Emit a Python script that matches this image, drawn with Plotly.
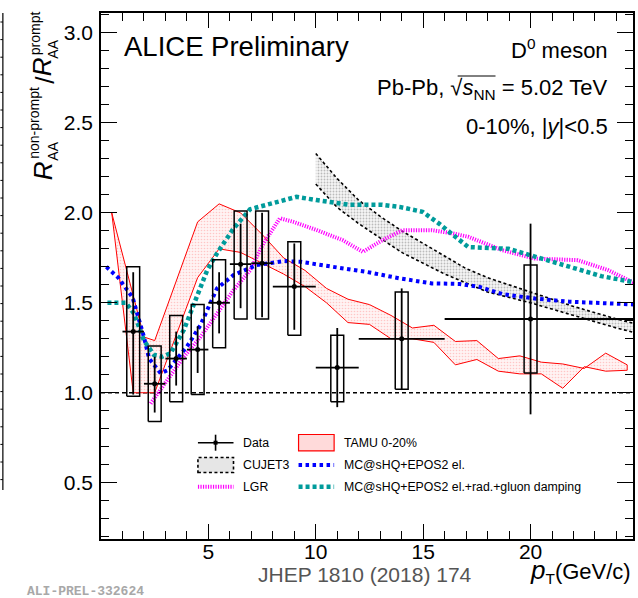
import plotly.graph_objects as go

# ---------------- data ----------------
# measured non-prompt / prompt D0 R_AA ratio
pt = [1.5, 2.5, 3.5, 4.5, 5.5, 6.5, 7.5, 9.0, 11.0, 14.0, 20.0]
bin_lo = [1, 2, 3, 4, 5, 6, 7, 8, 10, 12, 16]
bin_hi = [2, 3, 4, 5, 6, 7, 8, 10, 12, 16, 36]
ratio = [1.34, 1.05, 1.19, 1.24, 1.50, 1.715, 1.72, 1.59, 1.14, 1.30, 1.41]
stat_up = [0.33, 0.15, 0.15, 0.13, 0.17, 0.225, 0.28, 0.24, 0.22, 0.28, 0.53]
stat_dn = [0.35, 0.16, 0.15, 0.13, 0.17, 0.245, 0.30, 0.24, 0.22, 0.285, 0.53]
syst_up = [0.36, 0.21, 0.24, 0.25, 0.24, 0.295, 0.29, 0.25, 0.18, 0.26, 0.30]
syst_dn = [0.36, 0.21, 0.24, 0.25, 0.25, 0.305, 0.31, 0.27, 0.19, 0.28, 0.30]
syst_halfwidth = 0.3

# TAMU 0-20% band
tamu_up_x = [0.5, 2.0, 2.5, 4.5, 5.5, 6.5, 7.5, 8.5, 9.5, 10.5, 11.5, 12.5, 13.5,
             14.5, 15.5, 16.5, 17.5, 18.5, 19.5, 20.5, 21.5, 22.5, 23.5, 24.5]
tamu_up_y = [2.0, 1.31, 1.29, 1.95, 2.05, 2.00, 1.88, 1.75, 1.68, 1.58, 1.52, 1.49, 1.43,
             1.36, 1.375, 1.285, 1.29, 1.19, 1.205, 1.17, 1.16, 1.135, 1.22, 1.155]
tamu_lo_x = [0.5, 1.5, 2.5, 4.5, 5.5, 6.5, 7.5, 8.5, 9.5, 10.5, 11.5, 12.5, 13.5,
             14.5, 15.5, 16.5, 17.5, 18.5, 19.5, 20.5, 21.5, 22.5, 23.5, 24.5]
tamu_lo_y = [2.0, 1.0, 1.0, 1.64, 1.80, 1.78, 1.72, 1.66, 1.59, 1.50, 1.39, 1.38, 1.30,
             1.30, 1.28, 1.155, 1.185, 1.12, 1.105, 1.105, 1.025, 1.145, 1.12, 1.125]

# CUJET3 band
cujet_x = [10, 11, 12, 13, 14, 15, 16, 17, 18, 20, 22, 24, 25]
cujet_up = [2.33, 2.19, 2.07, 1.98, 1.90, 1.83, 1.76, 1.69, 1.64, 1.56, 1.48, 1.41, 1.38]
cujet_lo = [2.16, 2.03, 1.94, 1.86, 1.78, 1.72, 1.66, 1.61, 1.56, 1.50, 1.43, 1.36, 1.33]

# LGR
lgr_x = [2.31, 3.09, 3.86, 4.63, 5.4, 6.17, 6.94, 7.56, 8.33, 8.95, 10.03, 11.26, 12.19,
         13.1, 14.04, 15.4, 16.36, 17.1, 18.67, 20.2, 22.2, 23.6, 24.8]
lgr_y = [0.94, 1.07, 1.20, 1.31, 1.44, 1.57, 1.68, 1.83, 1.97, 1.95, 1.905, 1.848, 1.783,
         1.848, 1.904, 1.904, 1.886, 1.867, 1.793, 1.746, 1.737, 1.682, 1.612]

# MC@sHQ+EPOS2 el.
mcel_x = [0.25, 0.8, 1.47, 2.0, 2.24, 2.78, 3.1, 4.0, 4.63, 5.4, 6.17, 7.25, 8.5, 9.3,
          10.8, 12.35, 13.9, 15.4, 16.7, 17.6, 18.7, 20.2, 21.8, 23.3, 24.8]
mcel_y = [1.70, 1.64, 1.53, 1.31, 1.19, 1.108, 1.125, 1.256, 1.376, 1.58, 1.654, 1.71,
          1.732, 1.728, 1.70, 1.672, 1.636, 1.608, 1.605, 1.589, 1.548, 1.524, 1.506,
          1.497, 1.491]

# MC@sHQ+EPOS2 el.+rad.+gluon damping
mcrad_x = [0.3, 1.16, 1.54, 2.0, 2.47, 2.85, 3.24, 3.86, 4.4, 4.94, 5.4, 6.17, 6.94, 7.7,
           9.1, 10.03, 11.57, 13.1, 13.9, 14.97, 15.74, 16.5, 17.1, 18.98, 20.2, 21.76,
           23.3, 24.8]
mcrad_y = [1.50, 1.50, 1.44, 1.29, 1.21, 1.20, 1.22, 1.35, 1.515, 1.68, 1.775, 1.913,
           2.02, 2.043, 2.089, 2.071, 2.045, 2.045, 2.033, 2.006, 1.94, 1.867, 1.81,
           1.80, 1.756, 1.70, 1.648, 1.615]

x_tick_vals = [5, 10, 15, 20]
x_tick_text = ["5", "10", "15", "20"]
y_tick_vals = [0.5, 1.0, 1.5, 2.0, 2.5, 3.0]
y_tick_text = ["0.5", "1.0", "1.5", "2.0", "2.5", "3.0"]
x_range = [0.0, 24.77]
y_range = [0.187, 3.111]

FONT = "Liberation Sans, Arial, Helvetica, sans-serif"
BLUE = "#0000ff"
TEAL = "#009b9b"
MAGENTA = "#ff00ff"
RED = "#ff0000"

# ---------------- figure geometry (pixels) ----------------
W, H = 638, 598
ML, MR, MT, MB = 101, 3, 13, 59
PW, PH = W - ML - MR, H - MT - MB


def px_x(px):
    return (px - ML) / PW


def px_y(py):
    return (H - MB - py) / PH


fig = go.Figure()

# TAMU band (upper edge forward, lower edge back)
fig.add_trace(go.Scatter(
    x=tamu_up_x + tamu_lo_x[::-1], y=tamu_up_y + tamu_lo_y[::-1],
    mode="lines", fill="toself",
    fillpattern=dict(shape=".", fgcolor="#ff9a9a", bgcolor="#fff3f3",
                     size=3, solidity=0.22),
    line=dict(color=RED, width=1), showlegend=False, hoverinfo="skip"))

# CUJET3 band
fig.add_trace(go.Scatter(
    x=cujet_x + cujet_x[::-1], y=cujet_up + cujet_lo[::-1],
    mode="lines", fill="toself",
    fillpattern=dict(shape=".", fgcolor="#808080", bgcolor="#f6f6f6",
                     size=3, solidity=0.3),
    line=dict(width=0, color="rgba(0,0,0,0)"), showlegend=False, hoverinfo="skip"))
for edge in (cujet_up, cujet_lo):
    fig.add_trace(go.Scatter(x=cujet_x, y=edge, mode="lines",
                             line=dict(color="black", width=1.6, dash="3px,2.5px"),
                             showlegend=False, hoverinfo="skip"))

# model curves
fig.add_trace(go.Scatter(x=lgr_x, y=lgr_y, mode="lines",
                         line=dict(color=MAGENTA, width=4, dash="1.2px,1.3px"),
                         showlegend=False, hoverinfo="skip"))
fig.add_trace(go.Scatter(x=mcel_x, y=mcel_y, mode="lines",
                         line=dict(color=BLUE, width=4, dash="3.5px,3.5px"),
                         showlegend=False, hoverinfo="skip"))
fig.add_trace(go.Scatter(x=mcrad_x, y=mcrad_y, mode="lines",
                         line=dict(color=TEAL, width=4.5, dash="4px,3px"),
                         showlegend=False, hoverinfo="skip"))

# systematic uncertainty boxes
bx, by = [], []
for x, y, su, sd in zip(pt, ratio, syst_up, syst_dn):
    x0, x1 = x - syst_halfwidth, x + syst_halfwidth
    bx += [x0, x1, x1, x0, x0, None]
    by += [y - sd, y - sd, y + su, y + su, y - sd, None]
fig.add_trace(go.Scatter(x=bx, y=by, mode="lines",
                         line=dict(color="black", width=1.5),
                         showlegend=False, hoverinfo="skip"))

# data points with statistical errors and bin widths
fig.add_trace(go.Scatter(
    x=pt, y=ratio, mode="markers",
    marker=dict(color="black", size=5, symbol="circle"),
    error_y=dict(type="data", symmetric=False, array=stat_up, arrayminus=stat_dn,
                 color="black", thickness=1.8, width=0),
    error_x=dict(type="data", symmetric=False,
                 array=[h - x for h, x in zip(bin_hi, pt)],
                 arrayminus=[x - l for l, x in zip(bin_lo, pt)],
                 color="black", thickness=1.8, width=0),
    showlegend=False, hoverinfo="skip"))

# ---------------- axes ----------------
axis_common = dict(showline=True, linecolor="black", linewidth=1.5, mirror="allticks",
                   ticks="inside", tickcolor="black", tickwidth=1.2,
                   showgrid=False, zeroline=False,
                   tickfont=dict(family=FONT, size=21, color="black"))
fig.update_xaxes(range=x_range, tickvals=x_tick_vals, ticktext=x_tick_text,
                 ticklen=15, ticklabelstandoff=-7,
                 minor=dict(ticks="inside", ticklen=8, dtick=1, tick0=0,
                            tickcolor="black", tickwidth=1.2, showgrid=False),
                 **axis_common)
fig.update_yaxes(range=y_range, tickvals=y_tick_vals, ticktext=y_tick_text,
                 ticklen=16, ticklabelstandoff=2,
                 minor=dict(ticks="inside", ticklen=8, dtick=0.1, tick0=0,
                            tickcolor="black", tickwidth=1.2, showgrid=False),
                 **axis_common)

shapes = []
annotations = []

# unity reference line
shapes.append(dict(type="line", xref="paper", yref="y", x0=0, x1=1, y0=1.0, y1=1.0,
                   line=dict(color="black", width=1.5, dash="4px,3px"), layer="below"))

# frame edge of the neighbouring panel
shapes.append(dict(type="line", xref="paper", yref="paper", x0=px_x(2.5), x1=px_x(2.5),
                   y0=px_y(13), y1=px_y(490), line=dict(color="black", width=1.2)))
for k in range(27):
    yy = 22 + 17.6 * k
    shapes.append(dict(type="line", xref="paper", yref="paper", x0=px_x(0), x1=px_x(2.5),
                       y0=px_y(yy), y1=px_y(yy), line=dict(color="black", width=1)))


# ---------------- texts ----------------
def text(s, x, y, size, xanchor="left", yanchor="middle", color="black", angle=0, family=FONT):
    annotations.append(dict(text=s, x=px_x(x), y=px_y(y), xref="paper", yref="paper",
                            xanchor=xanchor, yanchor=yanchor, showarrow=False,
                            textangle=angle, font=dict(family=family, size=size, color=color)))


text("ALICE Preliminary", 122, 46, 27.5)
text("D<sup>0</sup> meson", 612, 49, 22, xanchor="right")
text("Pb-Pb, √<i>s</i><sub>NN</sub> = 5.02 TeV", 612, 89, 22, xanchor="right")
text("0-10%, |<i>y</i>|&lt;0.5", 612, 127, 22, xanchor="right")

# y-axis title built from stacked pieces
text("<i>R</i>", 42.5, 170.5, 26, xanchor="center", angle=-90)
text("AA", 53, 151.5, 14, xanchor="center", angle=-90)
text("non-prompt", 34, 122.5, 14, xanchor="center", angle=-90)
text("/", 44.5, 80, 26, xanchor="center", angle=-90)
text("<i>R</i>", 42.5, 66.5, 26, xanchor="center", angle=-90)
text("AA", 53, 49.5, 14, xanchor="center", angle=-90)
text("prompt", 35, 33, 14, xanchor="center", angle=-90)

# x-axis title
text("<span style='font-size:26px'><i>p</i></span><sub>T</sub>(GeV/c)", 635, 571, 22,
     xanchor="right")
text("JHEP 1810 (2018) 174", 366, 574, 21, xanchor="center", color="#555555")
text("<b>ALI-PREL-332624</b>", 25, 591, 13, color="#a8a8a8",
     family="Liberation Mono, Courier New, monospace")

# ---------------- legend ----------------
row = [442.7, 465.0, 486.7]
c1_sym, c2_sym = (198.3, 234.0), (299.3, 335.0)
c1_txt, c2_txt = 241.7, 342.7
LEG = 12.3

# Data
shapes.append(dict(type="line", xref="paper", yref="paper", x0=px_x(c1_sym[0]), x1=px_x(c1_sym[1]),
                   y0=px_y(row[0]), y1=px_y(row[0]), line=dict(color="black", width=1.6)))
shapes.append(dict(type="line", xref="paper", yref="paper", x0=px_x(216), x1=px_x(216),
                   y0=px_y(row[0] - 8), y1=px_y(row[0] + 8), line=dict(color="black", width=1.6)))
shapes.append(dict(type="rect", xref="paper", yref="paper", x0=px_x(214), x1=px_x(218),
                   y0=px_y(row[0] + 2), y1=px_y(row[0] - 2), fillcolor="black",
                   line=dict(color="black", width=0)))
text("Data", c1_txt, row[0], LEG)

# TAMU
shapes.append(dict(type="rect", xref="paper", yref="paper", x0=px_x(c2_sym[0]), x1=px_x(c2_sym[1]),
                   y0=px_y(row[0] + 8.2), y1=px_y(row[0] - 8.2), fillcolor="#ffdada",
                   line=dict(color=RED, width=1.2)))
text("TAMU 0-20%", c2_txt, row[0], LEG)

# CUJET3
shapes.append(dict(type="rect", xref="paper", yref="paper", x0=px_x(c1_sym[0]), x1=px_x(c1_sym[1]),
                   y0=px_y(row[1] + 7.5), y1=px_y(row[1] - 7.5), fillcolor="#e6e6e6",
                   line=dict(color="black", width=1.6, dash="3px,2.5px")))
text("CUJET3", c1_txt, row[1], LEG)

# MC@sHQ el.
shapes.append(dict(type="line", xref="paper", yref="paper", x0=px_x(c2_sym[0]), x1=px_x(c2_sym[1]),
                   y0=px_y(row[1]), y1=px_y(row[1]),
                   line=dict(color=BLUE, width=4, dash="3.5px,3.5px")))
text("MC@sHQ+EPOS2 el.", c2_txt, row[1], LEG)

# LGR
shapes.append(dict(type="line", xref="paper", yref="paper", x0=px_x(c1_sym[0]), x1=px_x(c1_sym[1]),
                   y0=px_y(row[2]), y1=px_y(row[2]),
                   line=dict(color=MAGENTA, width=4, dash="1.2px,1.3px")))
text("LGR", c1_txt, row[2], LEG)

# MC@sHQ el.+rad.
shapes.append(dict(type="line", xref="paper", yref="paper", x0=px_x(c2_sym[0]), x1=px_x(c2_sym[1]),
                   y0=px_y(row[2]), y1=px_y(row[2]),
                   line=dict(color=TEAL, width=4.5, dash="4px,3px")))
text("MC@sHQ+EPOS2 el.+rad.+gluon damping", c2_txt, row[2], LEG)

# radical bar over s_NN
shapes.append(dict(type="line", xref="paper", yref="paper", x0=px_x(459), x1=px_x(497),
                   y0=px_y(76), y1=px_y(76), line=dict(color="black", width=1)))

fig.update_layout(width=W, height=H, autosize=False,
                  margin=dict(l=ML, r=MR, t=MT, b=MB, pad=0),
                  paper_bgcolor="white", plot_bgcolor="white",
                  font=dict(family=FONT, color="black"),
                  shapes=shapes, annotations=annotations, showlegend=False)

fig.write_html("out.html")
